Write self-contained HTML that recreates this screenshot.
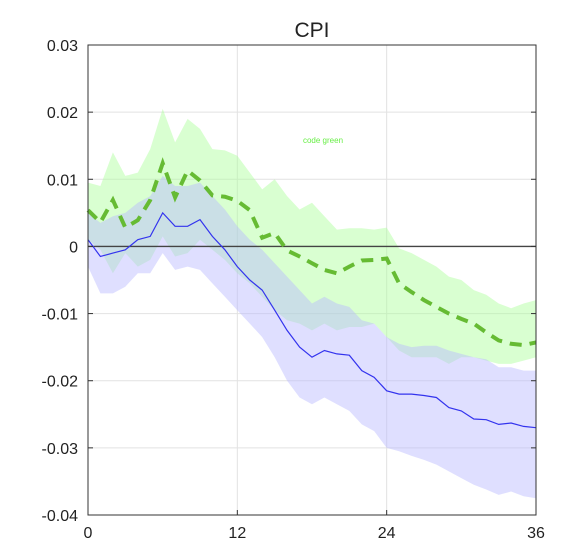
<!DOCTYPE html>
<html><head><meta charset="utf-8"><style>body{margin:0;background:#fff}svg{display:block;font-family:"Liberation Sans",sans-serif}</style></head>
<body>
<svg id="chart" width="579" height="557">
<rect x="0" y="0" width="579" height="557" fill="#fff"/>
<g id="grid"></g>
<g id="bands"></g>
<g id="lines"></g>
<g id="axes"></g>
<text x="312" y="37" font-size="21" text-anchor="middle" fill="#222">CPI</text>
<text x="323" y="143" font-size="8" text-anchor="middle" fill="#66ee44">code green</text>
</svg>
<script>
const xTicks=[0,12,24,36];
const yTicks=[-0.04,-0.03,-0.02,-0.01,0,0.01,0.02,0.03];
const yTickLabels=["-0.04","-0.03","-0.02","-0.01","0","0.01","0.02","0.03"];
const blueLine=[0.001,-0.0015,-0.001,-0.0005,0.001,0.0015,0.005,0.003,0.003,0.004,0.0015,-0.0005,-0.003,-0.005,-0.0065,-0.0095,-0.0125,-0.015,-0.0165,-0.0155,-0.016,-0.0162,-0.0185,-0.0195,-0.0215,-0.022,-0.022,-0.0222,-0.0225,-0.024,-0.0245,-0.0257,-0.0258,-0.0265,-0.0263,-0.0268,-0.027];
const blueUpper=[0.005,0.0035,0.0045,0.005,0.0065,0.0075,0.0105,0.009,0.009,0.0095,0.0075,0.0055,0.003,0.001,-0.0005,-0.0025,-0.0045,-0.0065,-0.0085,-0.0075,-0.0085,-0.009,-0.011,-0.0115,-0.0135,-0.0145,-0.015,-0.0148,-0.0148,-0.0155,-0.016,-0.0165,-0.0168,-0.018,-0.018,-0.0185,-0.0185];
const blueLower=[-0.003,-0.007,-0.007,-0.006,-0.004,-0.004,-0.001,-0.0035,-0.003,-0.0035,-0.0055,-0.0075,-0.0095,-0.0115,-0.0135,-0.0165,-0.02,-0.0225,-0.0235,-0.0225,-0.0235,-0.0245,-0.0265,-0.0275,-0.03,-0.0305,-0.0312,-0.0318,-0.0325,-0.0335,-0.0345,-0.0355,-0.0362,-0.037,-0.0365,-0.0372,-0.0375];
const greenLine=[0.0054,0.0036,0.0069,0.0028,0.0039,0.0069,0.0124,0.0073,0.0113,0.0098,0.0076,0.0074,0.0068,0.0054,0.0013,0.002,-0.0006,-0.0015,-0.0025,-0.0035,-0.004,-0.003,-0.0021,-0.002,-0.0018,-0.0055,-0.0068,-0.008,-0.009,-0.01,-0.0108,-0.0115,-0.0128,-0.014,-0.0145,-0.0147,-0.0143];
const greenUpper=[0.0095,0.009,0.014,0.0105,0.011,0.0145,0.0205,0.0155,0.019,0.0175,0.0145,0.0143,0.0135,0.011,0.0085,0.01,0.0075,0.0055,0.0065,0.0045,0.0025,0.0027,0.0027,0.0025,0.0028,-0.0003,-0.001,-0.002,-0.003,-0.0045,-0.005,-0.0065,-0.0072,-0.0085,-0.0092,-0.0085,-0.008];
const greenLower=[0.001,-0.0005,-0.004,-0.001,-0.003,-0.002,0.0015,-0.0015,-0.001,0.001,-0.0005,-0.002,-0.004,-0.0055,-0.0075,-0.0095,-0.011,-0.0115,-0.0125,-0.0115,-0.0125,-0.012,-0.012,-0.0115,-0.0135,-0.0155,-0.0165,-0.0165,-0.0165,-0.0175,-0.0165,-0.0165,-0.017,-0.0175,-0.0175,-0.017,-0.0165];
const L=88,R=536,T=45,B=515,NS="http://www.w3.org/2000/svg";
const xs=t=>L+(t-0)/(36-0)*(R-L);
const ys=v=>T+(0.03-v)/(0.07)*(B-T);
function mk(tag,attrs,parent){const e=document.createElementNS(NS,tag);for(const k in attrs)e.setAttribute(k,attrs[k]);document.getElementById(parent).appendChild(e);return e;}
const pts=a=>a.map((v,i)=>xs(i).toFixed(1)+","+ys(v).toFixed(1));
xTicks.forEach(t=>{if(t>0&&t<36){const g=mk("line",{x1:xs(t),x2:xs(t),y1:T,y2:B,stroke:"#e2e2e2"},"grid");

}});
yTicks.forEach(v=>{const g=mk("line",{x1:L,x2:R,y1:ys(v),y2:ys(v),stroke:"#e2e2e2"},"grid");

});
const gb=mk("polygon",{points:pts(greenUpper).concat(pts(greenLower).reverse()).join(" "),fill:"#aaff99",opacity:"0.45"},"bands");


const bb=mk("polygon",{points:pts(blueUpper).concat(pts(blueLower).reverse()).join(" "),fill:"#b8b8ff",opacity:"0.45"},"bands");


const z=mk("line",{x1:L,x2:R,y1:ys(0),y2:ys(0),stroke:"#444","stroke-width":"1.3"},"lines");


const bl=mk("polyline",{points:pts(blueLine).join(" "),fill:"none",stroke:"#3333ee","stroke-width":"1.2"},"lines");


const gl=mk("polyline",{points:pts(greenLine).join(" "),fill:"none",stroke:"#66bb33","stroke-width":"4","stroke-dasharray":"12,8"},"lines");


const fr=mk("rect",{x:L,y:T,width:R-L,height:B-T,fill:"none",stroke:"#333","stroke-width":"1"},"axes");


yTicks.forEach((v,i)=>{const tk=mk("line",{x1:L,x2:L+5,y1:ys(v),y2:ys(v),stroke:"#333"},"axes");


const tk2=mk("line",{x1:R-5,x2:R,y1:ys(v),y2:ys(v),stroke:"#333"},"axes");


const tx=mk("text",{x:L-10,y:ys(v)+6,"font-size":"16","text-anchor":"end",fill:"#222"},"axes");tx.textContent=yTickLabels[i];

});
xTicks.forEach(t=>{const tk=mk("line",{x1:xs(t),x2:xs(t),y1:B-5,y2:B,stroke:"#333"},"axes");


const tx=mk("text",{x:xs(t),y:B+23,"font-size":"16","text-anchor":"middle",fill:"#222"},"axes");tx.textContent=String(t);

});
</script>
</body></html>
